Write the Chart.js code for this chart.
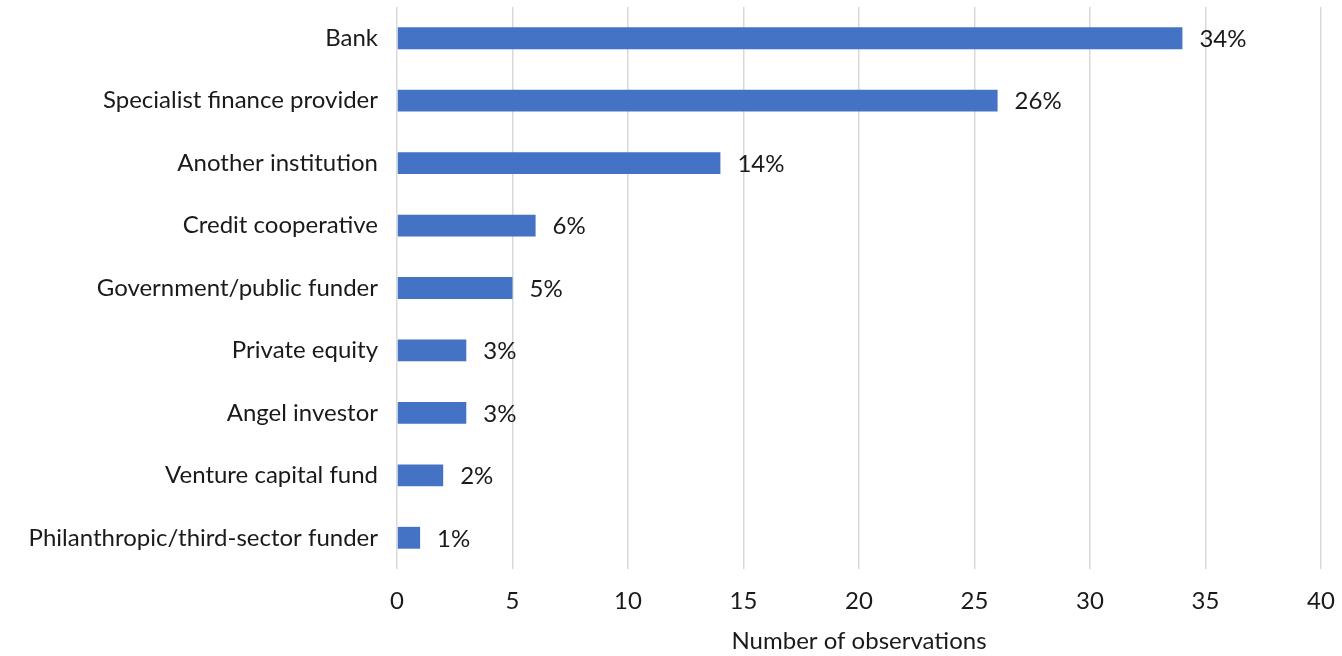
<!DOCTYPE html>
<html>
<head>
<meta charset="utf-8">
<script src="https://cdn.jsdelivr.net/npm/chart.js@4/dist/chart.umd.min.js"></script>
<style>
    html, body { margin: 0; padding: 0; background: #fff; }
    #wrap { width: 1342px; height: 656px; }
</style>
</head>
<body>
<div id="wrap"><canvas id="chart"></canvas></div>
<script>
// Chart data
const categories = [
    'Bank',
    'Specialist finance provider',
    'Another institution',
    'Credit cooperative',
    'Government/public funder',
    'Private equity',
    'Angel investor',
    'Venture capital fund',
    'Philanthropic/third-sector funder'
];
const observations = [34, 26, 14, 6, 5, 3, 3, 2, 1];
const shareLabels = ['34%', '26%', '14%', '6%', '5%', '3%', '3%', '2%', '1%'];

const textColor = '#1a1a1a';
const fontFamily = 'Lato, "Noto Sans", sans-serif';
const fontSize = 24;

// Draw the percentage next to each bar
const barLabels = {
    id: 'barLabels',
    afterDatasetsDraw(chart) {
        const ctx = chart.ctx;
        const meta = chart.getDatasetMeta(0);
        ctx.save();
        ctx.font = fontSize + 'px ' + fontFamily;
        ctx.fillStyle = textColor;
        ctx.textAlign = 'left';
        ctx.textBaseline = 'middle';
        meta.data.forEach((bar, i) => {
            ctx.fillText(shareLabels[i], bar.x + 17, bar.y + 1);
        });
        ctx.restore();
    }
};

new Chart(document.getElementById('chart').getContext('2d'), {
    type: 'bar',
    data: {
        labels: categories,
        datasets: [{
            data: observations,
            backgroundColor: '#4472C4',
            barPercentage: 0.7,
            categoryPercentage: 0.5
        }]
    },
    options: {
        indexAxis: 'y',
        responsive: true,
        maintainAspectRatio: false,
        animation: false,
        layout: {
            padding: { top: 7, right: 21, bottom: 0, left: 0 }
        },
        scales: {
            x: {
                min: 0,
                max: 40,
                afterFit(scale) {
                    scale.height = 87;
                    scale.paddingLeft = 0;
                    scale.paddingRight = 0;
                },
                ticks: {
                    stepSize: 5,
                    color: textColor,
                    padding: 18,
                    font: { family: fontFamily, size: fontSize }
                },
                grid: {
                    color: '#d9d9d9',
                    lineWidth: 1.5,
                    drawTicks: false
                },
                border: { display: false },
                title: {
                    display: true,
                    text: 'Number of observations',
                    color: textColor,
                    font: { family: fontFamily, size: fontSize },
                    padding: { top: 2, bottom: 0 }
                }
            },
            y: {
                afterFit(scale) {
                    scale.width = 397;
                    scale.paddingTop = 0;
                    scale.paddingBottom = 0;
                },
                ticks: {
                    color: textColor,
                    padding: 19,
                    font: { family: fontFamily, size: fontSize }
                },
                grid: { display: false, drawTicks: false },
                border: { display: false }
            }
        },
        plugins: {
            legend: { display: false },
            tooltip: { enabled: false }
        }
    },
    plugins: [barLabels]
});
</script>
</body>
</html>
